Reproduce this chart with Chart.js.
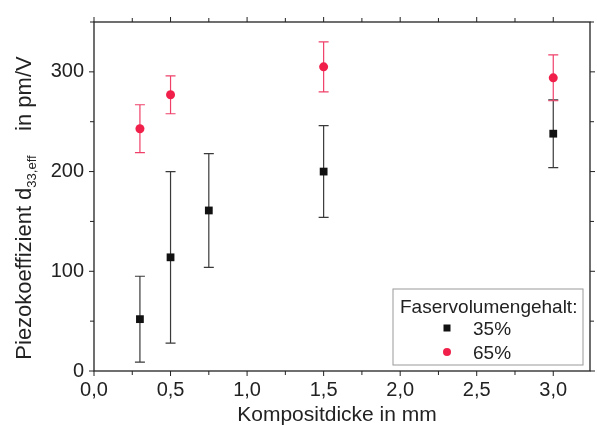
<!DOCTYPE html>
<html>
<head>
<meta charset="utf-8">
<script src="https://cdn.jsdelivr.net/npm/chart.js@4/dist/chart.umd.min.js"></script>
<style>
  html, body { margin: 0; padding: 0; background: #fff; }
  #wrap { width: 597px; height: 426px; }
</style>
</head>
<body>
<div id="wrap"><canvas id="chartCanvas" width="597" height="426"></canvas></div>
<script>
// ── Data ──
var thickness35 = [0.3, 0.5, 0.75, 1.5, 3.0];
var d33_35 = [52, 114, 161, 200, 238];
var err35 = [43, 86, 57, 46, 34];

var thickness65 = [0.3, 0.5, 1.5, 3.0];
var d33_65 = [243, 277, 305, 294];
var err65 = [24, 19, 25, 23];

var seriesLabels = ['35%', '65%'];
var legendTitle = 'Faservolumengehalt:';
var xTitle = 'Kompositdicke in mm';

var FONT = '"Liberation Sans", Arial, sans-serif';

function toPoints(xs, ys, es) {
  return xs.map(function(x, i) { return { x: x, y: ys[i], e: es[i] }; });
}

// ── Error bars, frame, ticks, titles, legend ──
var decorPlugin = {
  id: 'decor',
  beforeDatasetsDraw: function(chart) {
    var ctx = chart.ctx;
    var xs = chart.scales.x, ys = chart.scales.y;
    var colors = ['#3a3a3a', '#f0406a'];
    chart.data.datasets.forEach(function(ds, di) {
      ctx.save();
      ctx.strokeStyle = colors[di];
      ctx.lineWidth = 1.2;
      ds.data.forEach(function(p) {
        var px = xs.getPixelForValue(p.x);
        var top = ys.getPixelForValue(p.y + p.e);
        var bot = ys.getPixelForValue(p.y - p.e);
        ctx.beginPath();
        ctx.moveTo(px, top); ctx.lineTo(px, bot);
        ctx.moveTo(px - 5, top); ctx.lineTo(px + 5, top);
        ctx.moveTo(px - 5, bot); ctx.lineTo(px + 5, bot);
        ctx.stroke();
      });
      ctx.restore();
    });
  },
  afterDraw: function(chart) {
    var ctx = chart.ctx;
    var a = chart.chartArea;
    var xs = chart.scales.x, ys = chart.scales.y;

    ctx.save();
    ctx.strokeStyle = '#222';
    ctx.lineWidth = 1.3;
    ctx.strokeRect(a.left, a.top, a.right - a.left, a.bottom - a.top);

    // outward ticks on all four sides
    ctx.lineWidth = 1;
    xs.ticks.forEach(function(t) {
      var px = xs.getPixelForValue(t.value);
      var len = (Math.abs(t.value * 2 - Math.round(t.value * 2)) < 1e-6) ? 5 : 4;
      ctx.beginPath();
      ctx.moveTo(px, a.bottom); ctx.lineTo(px, a.bottom + len);
      ctx.moveTo(px, a.top); ctx.lineTo(px, a.top - len);
      ctx.stroke();
    });
    ys.ticks.forEach(function(t) {
      var py = ys.getPixelForValue(t.value);
      var len = (t.value % 100 === 0) ? 5 : 4;
      ctx.beginPath();
      ctx.moveTo(a.left, py); ctx.lineTo(a.left - len, py);
      ctx.moveTo(a.right, py); ctx.lineTo(a.right + len, py);
      ctx.stroke();
    });

    // x title
    ctx.fillStyle = '#222';
    ctx.font = '21px ' + FONT;
    ctx.textAlign = 'center';
    ctx.textBaseline = 'alphabetic';
    ctx.fillText(xTitle, 337, 421);

    // y title with subscript
    ctx.save();
    ctx.translate(31, 208);
    ctx.rotate(-Math.PI / 2);
    ctx.textAlign = 'left';
    var part1 = 'Piezokoeffizient d', sub = '33,eff', part3 = '    in pm/V';
    ctx.font = '22px ' + FONT;
    var w1 = ctx.measureText(part1).width;
    var w3 = ctx.measureText(part3).width;
    ctx.font = '13px ' + FONT;
    var w2 = ctx.measureText(sub).width;
    var x0 = -(w1 + w2 + w3) / 2;
    ctx.font = '22px ' + FONT;
    ctx.fillText(part1, x0, 0);
    ctx.font = '13px ' + FONT;
    ctx.fillText(sub, x0 + w1, 5);
    ctx.font = '22px ' + FONT;
    ctx.fillText(part3, x0 + w1 + w2, 0);
    ctx.restore();

    // legend box
    var bx = a.right - 197, by = a.bottom - 82, bw = 190, bh = 76;
    ctx.strokeStyle = '#999';
    ctx.lineWidth = 1;
    ctx.strokeRect(bx, by, bw, bh);
    ctx.fillStyle = '#222';
    ctx.font = '19px ' + FONT;
    ctx.textAlign = 'left';
    ctx.fillText(legendTitle, bx + 7, by + 24);
    var mx = bx + 54;
    var rows = [by + 39, by + 63];
    chart.data.datasets.forEach(function(ds, di) {
      var ry = rows[di];
      ctx.fillStyle = ds.backgroundColor;
      if (di === 0) {
        ctx.fillRect(mx - 3.5, ry - 3.5, 7, 7);
      } else {
        ctx.beginPath();
        ctx.arc(mx, ry, 4, 0, Math.PI * 2);
        ctx.fill();
      }
      ctx.fillStyle = '#222';
      ctx.fillText(seriesLabels[di], mx + 26, ry + 7);
    });
    ctx.restore();
  }
};

var ctx = document.getElementById('chartCanvas').getContext('2d');
new Chart(ctx, {
  type: 'scatter',
  data: {
    datasets: [
      {
        label: seriesLabels[0],
        data: toPoints(thickness35, d33_35, err35),
        pointStyle: 'rect',
        pointRadius: 5.5,
        backgroundColor: '#111',
        borderColor: '#111',
        borderWidth: 0
      },
      {
        label: seriesLabels[1],
        data: toPoints(thickness65, d33_65, err65),
        pointStyle: 'circle',
        pointRadius: 4.5,
        backgroundColor: '#f0204a',
        borderColor: '#f0204a',
        borderWidth: 0
      }
    ]
  },
  options: {
    responsive: false,
    animation: false,
    layout: { padding: { top: 21, right: 7, left: 0, bottom: 0 } },
    plugins: {
      legend: { display: false },
      tooltip: { enabled: false }
    },
    scales: {
      x: {
        type: 'linear',
        min: 0,
        max: 3.24,
        afterFit: function(s) { s.height = 55; },
        grid: { display: false, drawTicks: false },
        border: { display: false },
        ticks: {
          stepSize: 0.25,
          includeBounds: false,
          autoSkip: false,
          maxRotation: 0,
          padding: 7,
          color: '#222',
          font: { family: FONT, size: 20 },
          callback: function(v) {
            if (Math.abs(v * 2 - Math.round(v * 2)) > 1e-6) return '';
            return v.toFixed(1).replace('.', ',');
          }
        }
      },
      y: {
        type: 'linear',
        min: 0,
        max: 350,
        afterFit: function(s) { s.width = 94; },
        grid: { display: false, drawTicks: false },
        border: { display: false },
        ticks: {
          stepSize: 50,
          includeBounds: false,
          autoSkip: false,
          padding: 10,
          color: '#222',
          font: { family: FONT, size: 20 },
          callback: function(v) { return v % 100 === 0 ? String(v) : ''; }
        }
      }
    }
  },
  plugins: [decorPlugin]
});
</script>
</body>
</html>
